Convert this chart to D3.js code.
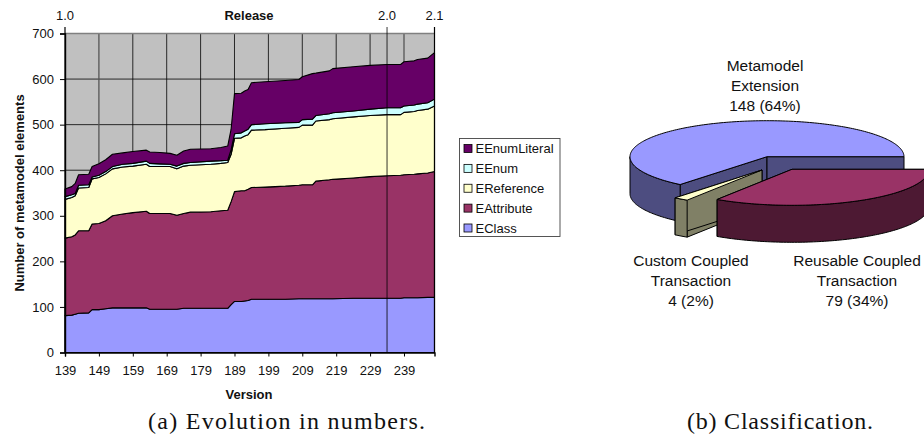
<!DOCTYPE html>
<html>
<head>
<meta charset="utf-8">
<script src="https://cdn.jsdelivr.net/npm/d3@7/dist/d3.min.js"></script>
<style>
body { margin: 0; background: #fff; }
svg { display: block; }
text { font-family: "Liberation Sans", Arial, sans-serif; fill: #111; }
.caption { font-family: "Liberation Serif", serif; font-size: 24px; }
</style>
</head>
<body>
<div id="chart"></div>
<script>
// area chart data
const versions = [139,141,142,143,146,147,149,151,153,156,159,163,164,167,170,172,174,176,182,185,187,188,189,191,192,193,194,198,204,208,209,212,213,217,218,224,229,234,238,239,242,243,246,248];
const eClass = [81,82,84,86,87,94,94,96,98,98,98,98,95,95,95,95,97,97,97,97,97,105,112,112,113,114,117,117,117,118,118,118,118,118,118,119,119,119,119,120,120,120,121,121];
const eAttribute = [170,172,174,181,180,188,189,193,202,206,209,212,210,210,210,206,208,211,212,214,215,226,241,243,242,244,245,246,248,249,250,250,258,261,262,264,267,269,270,270,271,272,273,276];
const eReference = [85,86,86,94,95,99,101,103,103,103,102,103,103,103,103,102,104,103,104,104,105,104,117,116,120,120,126,126,127,127,131,131,132,132,133,134,134,134,133,137,138,139,140,144];
const eEnum = [6,6,5,6,6,4,5,5,5,6,6,7,7,6,5,6,6,6,7,6,5,10,10,11,11,12,12,13,12,11,12,13,12,13,13,13,14,15,15,14,14,14,14,15];
const eEnumLiteral = [17,18,22,23,23,23,25,26,27,25,26,24,25,25,24,24,27,29,27,29,31,45,88,87,88,87,92,92,93,94,94,100,93,94,97,97,96,95,95,97,97,98,98,102];

const seriesNames = ["EClass","EAttribute","EReference","EEnum","EEnumLiteral"];
const seriesValues = [eClass,eAttribute,eReference,eEnum,eEnumLiteral];
const seriesColors = ["#9999FF","#993366","#FFFFCC","#CCFFFF","#660066"];

const versionTicks = [139,149,159,169,179,189,199,209,219,229,239];
const countTicks = [0,100,200,300,400,500,600,700];
const releases = [{label:"1.0",version:139},{label:"2.0",version:234},{label:"2.1",version:248}];

// pie data
const pieNames = ["Metamodel Extension","Reusable Coupled Transaction","Custom Coupled Transaction"];
const pieValues = [148,79,4];
const pieLabels = ["148 (64%)","79 (34%)","4 (2%)"];

const svg = d3.select("#chart").append("svg").attr("width",924).attr("height",438);

//----- area chart
const x = d3.scaleLinear().domain([139,248]).range([65,434.5]);
const y = d3.scaleLinear().domain([0,700]).range([352.5,33.5]);

const rows = versions.map(function(v,i){
    const row = {version:v};
    seriesNames.forEach(function(n,j){ row[n] = seriesValues[j][i]; });
    return row;
});
const stacked = d3.stack().keys(seriesNames)(rows);

svg.append("rect")
    .attr("x",x(139)).attr("y",y(700))
    .attr("width",x(248)-x(139)).attr("height",y(0)-y(700))
    .attr("fill","#C0C0C0");

// gridlines
svg.selectAll(".hgrid").data(countTicks.slice(1,7)).join("line")
    .attr("x1",x(139)).attr("x2",x(248))
    .attr("y1",d => y(d)).attr("y2",d => y(d))
    .attr("stroke","#000").attr("stroke-width",0.8);
svg.selectAll(".vgrid").data(versionTicks.slice(1)).join("line")
    .attr("x1",d => x(d)).attr("x2",d => x(d))
    .attr("y1",y(700)).attr("y2",y(0))
    .attr("stroke",d => d == 149 || d == 239 ? "#555" : "#000")
    .attr("stroke-width",d => d == 149 || d == 239 ? 1.3 : 0.8);
svg.append("line")
    .attr("x1",x(139)).attr("x2",x(248)).attr("y1",y(700)).attr("y2",y(700))
    .attr("stroke","#808080").attr("stroke-width",1.6);

const area = d3.area()
    .x(d => x(d.data.version))
    .y0(d => y(d[0]))
    .y1(d => y(d[1]));

svg.selectAll(".layer").data(stacked).join("path")
    .attr("d",area)
    .attr("fill",(d,i) => seriesColors[i])
    .attr("stroke","#000").attr("stroke-width",1.1)
    .attr("stroke-linejoin","round");

// release markers
svg.selectAll(".release").data(releases).join("line")
    .attr("x1",d => x(d.version)).attr("x2",d => x(d.version))
    .attr("y1",27).attr("y2",y(0))
    .attr("stroke","#000").attr("stroke-width",d => d.version == 234 ? 0.8 : 1.2);
svg.selectAll(".releaseLabel").data(releases).join("text")
    .attr("x",d => x(d.version)).attr("y",19.5)
    .attr("text-anchor","middle").attr("font-size","13px")
    .text(d => d.label);
svg.append("text").attr("x",249).attr("y",19.5)
    .attr("text-anchor","middle").attr("font-size","13px").attr("font-weight","bold")
    .text("Release");

// axes
const yAxis = svg.append("g").attr("transform","translate("+x(139)+",0)")
    .call(d3.axisLeft(y).tickValues(countTicks).tickSize(5).tickPadding(6));
const xAxis = svg.append("g").attr("transform","translate(0,"+y(0)+")")
    .call(d3.axisBottom(x).tickValues(versionTicks).tickFormat(d3.format("d")).tickSize(4).tickPadding(9));
[yAxis,xAxis].forEach(function(a){
    a.selectAll("text").attr("font-size","13px").attr("font-family","Liberation Sans").attr("fill","#111");
    a.select(".domain").attr("stroke","#000").attr("stroke-width",1.4);
    a.selectAll(".tick line").attr("stroke","#000");
});

svg.append("text").attr("x",249).attr("y",398.5)
    .attr("text-anchor","middle").attr("font-size","13px").attr("font-weight","bold")
    .text("Version");
svg.append("text").attr("transform","translate(24,193) rotate(-90)")
    .attr("text-anchor","middle").attr("font-size","13px").attr("font-weight","bold")
    .text("Number of metamodel elements");

// legend
svg.append("rect").attr("x",459.5).attr("y",138.5).attr("width",100.5).attr("height",98)
    .attr("fill","#fff").attr("stroke","#444").attr("stroke-width",0.9);
const legendNames = seriesNames.slice().reverse();
const legendY = d3.scalePoint().domain(legendNames).range([148.5,228]);
const legend = svg.selectAll(".legendRow").data(legendNames).join("g")
    .attr("transform",d => "translate(0,"+legendY(d)+")");
legend.append("rect").attr("x",464).attr("y",-4).attr("width",8).attr("height",8)
    .attr("fill",d => seriesColors[seriesNames.indexOf(d)])
    .attr("stroke","#000").attr("stroke-width",0.8);
legend.append("text").attr("x",475.5).attr("y",4.5).attr("font-size","13px").text(d => d);

//----- exploded 3D pie
const rx = 137, ry = 36, depth = 37;
const cx = 767, cy = 156.7;
const firstAngle = (360 - 360*148/231 + 90)*Math.PI/180;
const pieSlices = d3.pie().sort(null).value(d => d)
    .startAngle(firstAngle).endAngle(firstAngle + 2*Math.PI)(pieValues);

// offsets of the pulled out slices, same order as pieValues
const explode = [[0,0],[25,12.6],[-5,13.3]];
const topColors = ["#9999FF","#993366","#FFFFCC"];
const sideColors = ["#4D4D80","#4D1933","#808066"];

function rim(angle,i,drop){
    const t = angle - Math.PI/2;
    return [cx + explode[i][0] + rx*Math.cos(t), cy + explode[i][1] + ry*Math.sin(t) + drop];
}
function hub(i,drop){ return [cx + explode[i][0], cy + explode[i][1] + drop]; }
function arcAngles(a0,a1){
    const n = Math.max(2,Math.ceil((a1-a0)/0.02));
    return d3.range(n+1).map(k => a0 + (a1-a0)*k/n);
}
const pieLine = d3.line();

function polygon(pts,fill){
    svg.append("path").attr("d",pieLine(pts)+"Z")
        .attr("fill",fill).attr("stroke","#000").attr("stroke-width",1)
        .attr("stroke-linejoin","round");
}
function drawSlice(i,outerFrom,outerTo){
    const s = pieSlices[i];
    // cut faces
    [s.startAngle,s.endAngle].forEach(function(a){
        polygon([hub(i,0),rim(a,i,0),rim(a,i,depth),hub(i,depth)],sideColors[i]);
    });
    // rim wall (front part only)
    const wall = arcAngles(outerFrom,outerTo);
    polygon(wall.map(a => rim(a,i,0)).concat(wall.slice().reverse().map(a => rim(a,i,depth))),sideColors[i]);
    // top
    polygon([hub(i,0)].concat(arcAngles(s.startAngle,s.endAngle).map(a => rim(a,i,0))),topColors[i]);
}
// painter order: back slice first, the pulled out ones after
drawSlice(0,pieSlices[0].startAngle,3*Math.PI/2);
drawSlice(2,pieSlices[2].startAngle,pieSlices[2].endAngle);
drawSlice(1,pieSlices[1].startAngle,pieSlices[1].endAngle);

// pie labels
function labelBlock(lines,px,py){
    lines.forEach(function(l,i){
        svg.append("text").attr("x",px).attr("y",py + i*20)
            .attr("text-anchor","middle").attr("font-size","15.5px").text(l);
    });
}
labelBlock(["Metamodel","Extension",pieLabels[0]],765,70.5);
labelBlock(["Reusable Coupled","Transaction",pieLabels[1]],857,265.5);
labelBlock(["Custom Coupled","Transaction",pieLabels[2]],691,265.5);

// captions
svg.append("text").attr("class","caption").attr("x",148).attr("y",429)
    .attr("textLength",277).attr("lengthAdjust","spacing").text("(a) Evolution in numbers.");
svg.append("text").attr("class","caption").attr("x",687).attr("y",429)
    .attr("textLength",186).attr("lengthAdjust","spacing").text("(b) Classification.");
</script>
</body>
</html>
